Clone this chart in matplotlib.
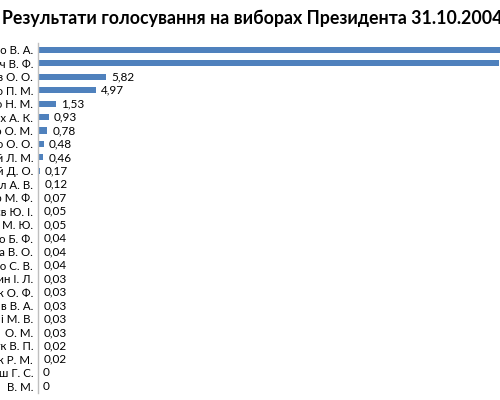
import matplotlib
matplotlib.use('Agg')
import matplotlib.pyplot as plt

plt.rcParams['font.family'] = ['Lato', 'DejaVu Sans']

title = 'Результати голосування на виборах Президента 31.10.2004'

candidates = ['Ющенко В. А.', 'Янукович В. Ф.', 'Мороз О. О.', 'Симоненко П. М.',
              'Вітренко Н. М.', 'Кінах А. К.', 'Яковенко О. М.', 'Омельченко О. О.',
              'Черновецький Л. М.', 'Корчинський Д. О.', 'Чорновіл А. В.', 'Грабар М. Ф.',
              'Збітнєв Ю. І.', 'Бродський М. Ю.', 'Бойко Б. Ф.', 'Волга В. О.',
              'Комісаренко С. В.', 'Душин І. Л.', 'Базилюк О. Ф.', 'в В. А.',
              'і М. В.', 'О. М.', 'Нечипорук В. П.', 'Козак Р. М.',
              'Черниш Г. С.', 'В. М.']
votes = [39.90, 39.26, 5.82, 4.97, 1.53, 0.93, 0.78, 0.48, 0.46, 0.17, 0.12, 0.07,
         0.05, 0.05, 0.04, 0.04, 0.04, 0.03, 0.03, 0.03, 0.03, 0.03, 0.02, 0.02,
         0, 0]

fig = plt.figure(figsize=(5, 4), dpi=100)
ax = fig.add_axes([0.076, 0.0175, 1.056, 0.875])

ypos = list(range(len(candidates)))
ax.barh(ypos, votes, height=0.45, color='#4F81BD')
ax.set_xlim(0, 45)
ax.set_ylim(len(candidates) - 0.5, -0.5)
ax.set_yticks(ypos)
ax.set_yticklabels(candidates, fontsize=8.3)
ax.tick_params(axis='y', length=0, pad=3.5)
ax.set_xticks([])
for s in ['top', 'right', 'bottom']:
    ax.spines[s].set_visible(False)
ax.spines['left'].set_color('#BFBFBF')
ax.spines['left'].set_linewidth(1)

for y, v in zip(ypos, votes):
    txt = ('%.2f' % v).replace('.', ',') if v else '0'
    ax.annotate(txt, (v, y), xytext=(3.6, 0), textcoords='offset points',
                va='center', ha='left', fontsize=8.5, clip_on=False)

fig.text(0.004, 0.955, title, fontsize=12.8, fontweight='bold', ha='left', va='center')

fig.savefig('out.png', dpi=100)
